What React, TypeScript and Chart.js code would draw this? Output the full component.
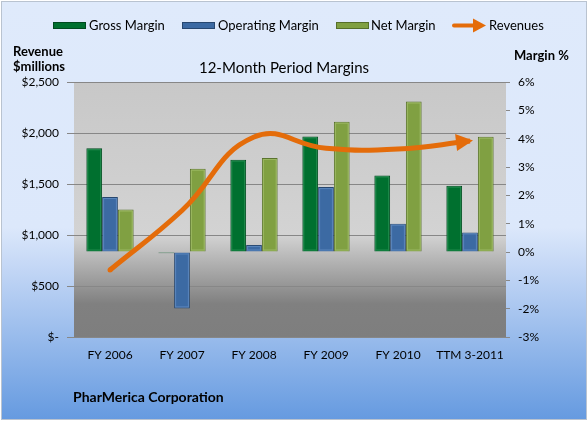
import React, { useEffect, useRef } from "react";
import { Chart, registerables } from "chart.js";

Chart.register(...registerables);

const categories = ["FY 2006", "FY 2007", "FY 2008", "FY 2009", "FY 2010", "TTM 3-2011"];
const grossMargin = [3.66, -0.04, 3.26, 4.08, 2.7, 2.34];
const operatingMargin = [1.94, -1.99, 0.25, 2.29, 1.0, 0.69];
const netMargin = [1.5, 2.94, 3.32, 4.6, 5.31, 4.07];
const revenues = [657, 1240, 1960, 1850, 1842, 1922];

const legendLabels = ["Gross Margin", "Operating Margin", "Net Margin", "Revenues"];
const chartTitle = "12-Month Period Margins";
const leftAxisTitle = ["Revenue", "$millions"];
const rightAxisTitle = "Margin %";
const footerText = "PharMerica Corporation";

const GREEN = "#00702f";
const GREEN_B = "#004a1f";
const GREEN_H = "#1f8a4c";
const BLUE = "#3c6aa3";
const BLUE_B = "#27476f";
const BLUE_H = "#5a86bd";
const OLIVE = "#80a042";
const OLIVE_B = "#566f2a";
const OLIVE_H = "#9bb862";
const ORANGE = "#e46c0a";
const FONT = "Lato, 'Open Sans', sans-serif";

const W = 588;
const H = 422;

const bgPlugin = {
  id: "bgPlugin",
  beforeDraw(chart: any) {
    const { ctx, chartArea: a } = chart;
    ctx.save();
    ctx.fillStyle = "#ffffff";
    ctx.fillRect(0, 0, W, H);
    const g = ctx.createLinearGradient(0, 1, 0, 420);
    g.addColorStop(0, "#dfeafb");
    g.addColorStop(0.54, "#dce8fb");
    g.addColorStop(0.63, "#c5d8f6");
    g.addColorStop(1, "#659ae0");
    ctx.fillStyle = g;
    ctx.fillRect(1, 1, 586, 419);
    ctx.strokeStyle = "#b9c3d0";
    ctx.lineWidth = 1;
    ctx.strokeRect(1.5, 1.5, 585, 418);
    const pg = ctx.createLinearGradient(0, a.top, 0, a.bottom);
    pg.addColorStop(0, "#c8c8c8");
    pg.addColorStop(0.6, "#d3d3d3");
    pg.addColorStop(0.87, "#808080");
    pg.addColorStop(1, "#7e7e7e");
    ctx.fillStyle = pg;
    ctx.fillRect(a.left, a.top, a.right - a.left, a.bottom - a.top);
    ctx.restore();
  },
};

const bevelPlugin = {
  id: "bevelPlugin",
  afterDatasetDraw(chart: any, args: any) {
    const ds = chart.data.datasets[args.index];
    if (ds.type !== "bar" || !ds.highlight) return;
    const { ctx } = chart;
    ctx.save();
    ctx.strokeStyle = ds.highlight;
    ctx.lineWidth = 1;
    args.meta.data.forEach((el: any) => {
      const top = Math.min(el.y, el.base);
      const bot = Math.max(el.y, el.base);
      const h = bot - top;
      if (h < 5) return;
      const l = el.x - el.width / 2;
      ctx.strokeRect(l + 1.5, top + 1.5, el.width - 3, h - 3);
    });
    ctx.restore();
  },
};

const arrowPlugin = {
  id: "arrowPlugin",
  afterDatasetsDraw(chart: any) {
    const idx = chart.data.datasets.findIndex((d: any) => d.type === "line");
    if (idx < 0) return;
    const meta = chart.getDatasetMeta(idx);
    const pts = meta.data;
    if (!pts || pts.length < 2) return;
    const { ctx } = chart;
    const first = pts[0];
    const last = pts[pts.length - 1];
    const prev = pts[pts.length - 2];
    let dx = last.x - (last.cp1x ?? prev.x);
    let dy = last.y - (last.cp1y ?? prev.y);
    if (Math.abs(dx) + Math.abs(dy) < 0.01) {
      dx = last.x - prev.x;
      dy = last.y - prev.y;
    }
    const len = Math.hypot(dx, dy) || 1;
    const ux = dx / len;
    const uy = dy / len;
    const tipX = last.x + ux * 3;
    const tipY = last.y + uy * 3;
    const L = 17;
    const hw = 8.5;
    const bx = tipX - ux * L;
    const by = tipY - uy * L;
    ctx.save();
    ctx.fillStyle = ORANGE;
    ctx.beginPath();
    ctx.moveTo(tipX, tipY);
    ctx.lineTo(bx - uy * hw, by + ux * hw);
    ctx.lineTo(bx + uy * hw, by - ux * hw);
    ctx.closePath();
    ctx.fill();
    ctx.beginPath();
    ctx.arc(first.x, first.y, 2.5, 0, Math.PI * 2);
    ctx.fill();
    ctx.restore();
  },
};

const textPlugin = {
  id: "textPlugin",
  afterDraw(chart: any) {
    const { ctx } = chart;
    ctx.save();
    ctx.fillStyle = "#000000";
    ctx.textBaseline = "middle";
    const swatches = [
      { x: 53, fill: GREEN, border: GREEN_B, tx: 89 },
      { x: 182, fill: BLUE, border: BLUE_B, tx: 218 },
      { x: 336, fill: OLIVE, border: OLIVE_B, tx: 371 },
    ];
    swatches.forEach((s, i) => {
      ctx.fillStyle = s.fill;
      ctx.fillRect(s.x, 22.5, 33, 6);
      ctx.strokeStyle = s.border;
      ctx.lineWidth = 1;
      ctx.strokeRect(s.x + 0.5, 22.5, 32, 6);
      ctx.fillStyle = "#000000";
      ctx.font = `13px ${FONT}`;
      ctx.textAlign = "left";
      ctx.fillText(legendLabels[i], s.tx, 25.5);
    });
    ctx.strokeStyle = ORANGE;
    ctx.lineWidth = 4;
    ctx.lineCap = "round";
    ctx.beginPath();
    ctx.moveTo(454, 25.5);
    ctx.lineTo(475, 25.5);
    ctx.stroke();
    ctx.fillStyle = ORANGE;
    ctx.beginPath();
    ctx.moveTo(486, 25.5);
    ctx.lineTo(473, 18.5);
    ctx.lineTo(473, 32.5);
    ctx.closePath();
    ctx.fill();
    ctx.fillStyle = "#000000";
    ctx.fillText(legendLabels[3], 489, 25.5);
    ctx.font = `15px ${FONT}`;
    ctx.textAlign = "center";
    ctx.fillText(chartTitle, 284, 68);
    ctx.font = `bold 13px ${FONT}`;
    ctx.textAlign = "left";
    ctx.fillText(leftAxisTitle[0], 13, 52);
    ctx.fillText(leftAxisTitle[1], 13, 67);
    ctx.fillText(rightAxisTitle, 514, 56);
    ctx.font = `bold 14px ${FONT}`;
    ctx.fillText(footerText, 73, 397);
    ctx.restore();
  },
};

export default function App() {
  const ref = useRef<HTMLCanvasElement | null>(null);
  useEffect(() => {
    if (!ref.current) return;
    const barCommon = {
      type: "bar",
      yAxisID: "y1",
      borderWidth: 1,
      categoryPercentage: 0.657,
      barPercentage: 1,
      order: 1,
    };
    const chart = new Chart(ref.current, {
      type: "bar",
      data: {
        labels: categories,
        datasets: [
          {
            type: "line",
            label: legendLabels[3],
            data: revenues,
            yAxisID: "y",
            borderColor: ORANGE,
            backgroundColor: ORANGE,
            borderWidth: 5,
            tension: 0.45,
            pointRadius: 0,
            pointHoverRadius: 0,
            fill: false,
            borderCapStyle: "butt",
            order: 0,
          } as any,
          {
            ...barCommon,
            label: legendLabels[0],
            data: grossMargin,
            backgroundColor: GREEN,
            borderColor: GREEN_B,
            highlight: GREEN_H,
          } as any,
          {
            ...barCommon,
            label: legendLabels[1],
            data: operatingMargin,
            backgroundColor: BLUE,
            borderColor: BLUE_B,
            highlight: BLUE_H,
          } as any,
          {
            ...barCommon,
            label: legendLabels[2],
            data: netMargin,
            backgroundColor: OLIVE,
            borderColor: OLIVE_B,
            highlight: OLIVE_H,
          } as any,
        ],
      },
      options: {
        responsive: false,
        animation: false,
        layout: { padding: { top: 82, left: 0, right: 0, bottom: 0 } },
        plugins: {
          legend: { display: false },
          title: { display: false },
          tooltip: { enabled: false },
        },
        scales: {
          x: {
            type: "category",
            grid: { display: false, drawTicks: false },
            border: { display: false },
            ticks: {
              color: "#000",
              font: { family: FONT, size: 12 },
              padding: 11,
              maxRotation: 0,
              autoSkip: false,
            },
            afterFit(scale: any) {
              scale.height = H - 337;
            },
          },
          y: {
            type: "linear",
            position: "left",
            min: 0,
            max: 2500,
            grid: { color: "#878787", lineWidth: 1, tickLength: 7, drawTicks: true },
            border: { display: false },
            ticks: {
              stepSize: 500,
              color: "#000",
              font: { family: FONT, size: 12 },
              padding: 8,
              callback: (v: any) => (Number(v) === 0 ? "$-" : "$" + Number(v).toLocaleString("en-US")),
            },
            afterFit(scale: any) {
              scale.width = 74;
            },
          },
          y1: {
            type: "linear",
            position: "right",
            min: -3,
            max: 6,
            grid: { drawOnChartArea: false, color: "#878787", tickLength: 4 },
            border: { display: false },
            ticks: {
              stepSize: 1,
              color: "#000",
              font: { family: FONT, size: 12 },
              padding: 8,
              callback: (v: any) => `${v}%`,
            },
            afterFit(scale: any) {
              scale.width = W - 506;
            },
          },
        },
      },
      plugins: [bgPlugin, bevelPlugin, arrowPlugin, textPlugin],
    });
    return () => chart.destroy();
  }, []);
  return (
    <div style={{ position: "fixed", left: 0, top: 0, width: W, height: H }}>
      <canvas ref={ref} width={W} height={H} style={{ width: W, height: H, display: "block" }} />
    </div>
  );
}
